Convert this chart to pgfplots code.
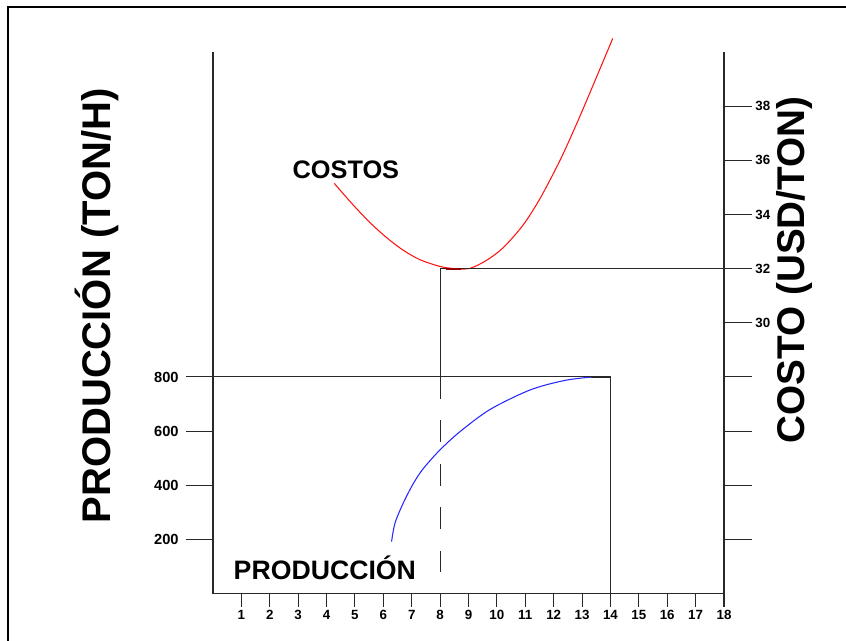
\documentclass[border=0pt]{standalone}
\usepackage{fontspec}
\setmainfont{Liberation Sans}
\usepackage{pgfplots}
\pgfplotsset{compat=1.18}
\definecolor{axgray}{RGB}{40,40,40}
\definecolor{cred}{RGB}{255,20,20}
\definecolor{cblue}{RGB}{40,40,255}
\pgfplotsset{
  base/.style={
    scale only axis, width=383.25pt, height=406.2pt,
    at={(159.75pt,35.55pt)}, anchor=south west,
    xmin=0, xmax=18, clip=false,
    axis line style={axgray, line width=0.8pt},
    tick style={axgray, line width=0.8pt},
    tick align=outside,
    /pgf/number format/assume math mode=true,
  }
}
\begin{document}
\begin{tikzpicture}[x=1pt,y=1pt]
\useasboundingbox (0,0) rectangle (634.5,480.75);
\draw[line width=1.3pt, black] (6,-10) -- (6,475.5) -- (650,475.5);

% x axis
\begin{axis}[base, ymin=0, ymax=1,
  axis x line*=bottom, axis y line=none,
  xtick={1,...,18}, major tick length=9.75pt,
  xticklabel style={font=\bfseries\fontsize{10}{10}\selectfont, yshift=1pt},
]
\end{axis}

% left axis: production
\begin{axis}[base, ymin=0, ymax=2000,
  axis y line*=left, axis x line=none,
  ytick={200,400,600,800}, major tick length=20.25pt,
  yticklabel style={font=\bfseries\fontsize{11}{11}\selectfont, xshift=-2pt},
]
\addplot[cblue, line width=0.8pt, smooth] coordinates {
 (6.29,192) (6.41,260) (6.70,334) (7.06,407) (7.41,462) (7.99,530)
 (8.70,598) (9.76,680) (11.17,752) (12.34,786) (13.28,799) (13.98,800)};
\addplot[axgray, line width=0.75pt] coordinates {(0,800) (14,800) (14,0)};
\addplot[axgray, line width=1.2pt] coordinates {(13.3,800) (14,800)};
\addplot[axgray, line width=0.75pt, dash pattern=on 16.4pt off 16.2pt] coordinates {(8,800) (8,80)};
\node[font=\bfseries\fontsize{20}{20}\selectfont] at (axis cs:3.94,94) {PRODUCCIÓN};
\end{axis}

% right axis: cost
\begin{axis}[base, ymin=20, ymax=40,
  axis y line*=right, axis x line=none,
  ytick={22,24,...,38}, yticklabels={,,,,30,32,34,36,38},
  major tick length=21pt,
  yticklabel style={font=\bfseries\fontsize{10}{10}\selectfont, xshift=-1pt},
]
\addplot[cred, line width=0.8pt, smooth] coordinates {
 (4.27,35.15) (4.93,34.36) (5.53,33.70) (6.12,33.14) (6.70,32.68) (7.29,32.33)
 (8.0,32.08) (8.52,32.0) (9.05,32.01) (9.64,32.31) (10.23,32.78) (10.93,33.62)
 (11.52,34.59) (12.22,35.99) (12.81,37.35) (13.40,38.80) (14.08,40.50)};
\addplot[axgray, line width=0.75pt] coordinates {(8,28) (8,32) (18,32)};
\addplot[red!60!black, line width=1.6pt] coordinates {(8.22,32) (8.73,32)};
\node[font=\bfseries\fontsize{19}{19}\selectfont] at (axis cs:4.68,35.64) {COSTOS};
\end{axis}

\node[rotate=90, anchor=base, font=\bfseries\fontsize{30}{30}\selectfont] at (82.5,251.25) {PRODUCCIÓN (TON/H)};
\node[rotate=90, anchor=base, font=\bfseries\fontsize{29}{29}\selectfont] at (603,278.25) {COSTO (USD/TON)};
\end{tikzpicture}
\end{document}
